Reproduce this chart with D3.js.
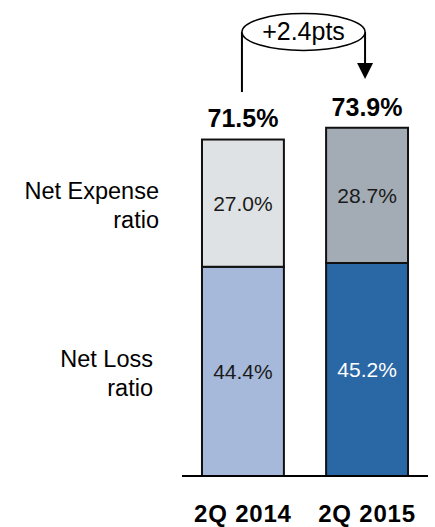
<!DOCTYPE html>
<html>
<head>
<meta charset="utf-8">
<script src="https://cdn.jsdelivr.net/npm/d3@7"></script>
<style>
  body { margin: 0; background: #fff; }
  svg { display: block; font-family: "Liberation Sans", Arial, sans-serif; }
</style>
</head>
<body>
<div id="chart"></div>
<script>
// data
const periods = ["2Q 2014", "2Q 2015"];
const lossRatio = [44.4, 45.2];
const expenseRatio = [27.0, 28.7];
const totalRatio = [71.5, 73.9];
const changeLabel = "+2.4pts";
const seriesNames = [["Net Expense", "ratio"], ["Net Loss", "ratio"]];

const lossColors = ["#a7b9da", "#2967a5"];
const expenseColors = ["#dee2e5", "#a3acb5"];

const width = 435, height = 527;

const svg = d3.select("#chart").append("svg")
    .attr("width", width)
    .attr("height", height);

// scales
const x = d3.scaleBand()
    .domain(periods)
    .range([182, 428])
    .paddingInner(0.34)
    .paddingOuter(0.161);

const y = d3.scaleLinear()
    .domain([0, 80])
    .range([476, 99]);

// stacked bars
const stacked = periods.map((p, i) => ({
    period: p,
    parts: [
        { v0: 0, v1: lossRatio[i], fill: lossColors[i], text: lossRatio[i].toFixed(1) + "%", white: i === 1 },
        { v0: lossRatio[i], v1: lossRatio[i] + expenseRatio[i], fill: expenseColors[i], text: expenseRatio[i].toFixed(1) + "%", white: false }
    ]
}));

const groups = svg.selectAll(".bar")
    .data(stacked)
    .enter()
    .append("g")
    .attr("class", "bar");

groups.selectAll("rect")
    .data(d => d.parts.map(p => Object.assign({ period: d.period }, p)))
    .enter()
    .append("rect")
    .attr("x", d => x(d.period))
    .attr("width", x.bandwidth())
    .attr("y", d => y(d.v1))
    .attr("height", d => y(d.v0) - y(d.v1))
    .attr("fill", d => d.fill)
    .attr("stroke", "#111")
    .attr("stroke-width", 2);

groups.selectAll("text.seg")
    .data(d => d.parts.map(p => Object.assign({ period: d.period }, p)))
    .enter()
    .append("text")
    .attr("class", "seg")
    .attr("x", d => x(d.period) + x.bandwidth() / 2)
    .attr("y", d => y((d.v0 + d.v1) / 2) + 7.5)
    .attr("text-anchor", "middle")
    .attr("font-size", 21)
    .attr("fill", d => d.white ? "#fff" : "#1a1a1a")
    .text(d => d.text);

// totals
svg.selectAll(".total")
    .data(periods)
    .enter()
    .append("text")
    .attr("class", "total")
    .attr("x", d => x(d) + x.bandwidth() / 2)
    .attr("y", (d, i) => y(totalRatio[i]) - 12)
    .attr("text-anchor", "middle")
    .attr("font-size", 25)
    .attr("font-weight", "bold")
    .attr("fill", "#000")
    .text((d, i) => totalRatio[i].toFixed(1) + "%");

// baseline
svg.append("line")
    .attr("x1", 182).attr("x2", 428)
    .attr("y1", y(0)).attr("y2", y(0))
    .attr("stroke", "#000")
    .attr("stroke-width", 2);

// category labels
svg.selectAll(".cat")
    .data(periods)
    .enter()
    .append("text")
    .attr("class", "cat")
    .attr("x", d => x(d) + x.bandwidth() / 2)
    .attr("y", 522)
    .attr("text-anchor", "middle")
    .attr("font-size", 24)
    .attr("font-weight", "bold")
    .attr("letter-spacing", 0.8)
    .text(d => d);

// series labels on the left
const seriesMid = [
    y(lossRatio[0] + expenseRatio[0] / 2),
    y(lossRatio[0] / 2)
];
const seriesRight = [159, 153];
seriesNames.forEach((lines, k) => {
    const t = svg.append("text")
        .attr("text-anchor", "end")
        .attr("font-size", 23.5)
        .attr("fill", "#000");
    lines.forEach((ln, j) => {
        t.append("tspan")
            .attr("x", seriesRight[k])
            .attr("y", seriesMid[k] - 4 + j * 28.5)
            .text(ln);
    });
});

// change annotation
const cx1 = x(periods[0]) + x.bandwidth() / 2 - 1;
const cx2 = x(periods[1]) + x.bandwidth() / 2 - 2;
const ecx = (cx1 + cx2) / 2, ecy = 32;
const erx = (cx2 - cx1) / 2, ery = 18.5;

svg.append("line")
    .attr("x1", cx1).attr("x2", cx1)
    .attr("y1", ecy).attr("y2", y(totalRatio[0]) - 47)
    .attr("stroke", "#000").attr("stroke-width", 2);

svg.append("line")
    .attr("x1", cx2).attr("x2", cx2)
    .attr("y1", ecy).attr("y2", 66)
    .attr("stroke", "#000").attr("stroke-width", 2);

svg.append("path")
    .attr("d", `M${cx2 - 8},63 L${cx2 + 8},63 L${cx2},79 Z`)
    .attr("fill", "#000");

svg.append("ellipse")
    .attr("cx", ecx).attr("cy", ecy)
    .attr("rx", erx).attr("ry", ery)
    .attr("fill", "#fff")
    .attr("stroke", "#000")
    .attr("stroke-width", 1.5);

svg.append("text")
    .attr("x", ecx)
    .attr("y", ecy + 8)
    .attr("text-anchor", "middle")
    .attr("font-size", 25)
    .text(changeLabel);
</script>
</body>
</html>
